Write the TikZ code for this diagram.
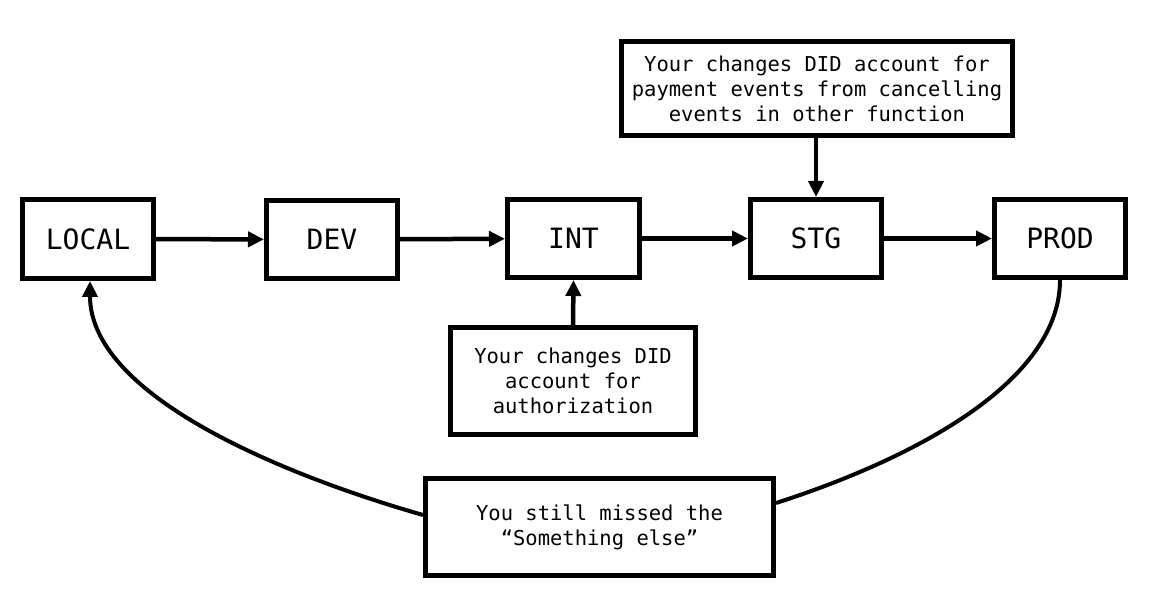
\documentclass[tikz,border=0pt]{standalone}
\usepackage{fontspec}
\setmonofont{DejaVu Sans Mono}
\usetikzlibrary{arrows.meta}
\begin{document}
\begin{tikzpicture}[x=1pt,y=-1pt,
  stage/.style={draw=black,line width=5pt,fill=white,inner sep=0pt,align=center,
    font=\ttfamily\fontsize{28}{32}\selectfont},
  note/.style={draw=black,line width=5pt,fill=white,inner sep=0pt,align=center,
    font=\ttfamily\fontsize{20.5}{25}\selectfont},
  conn/.style={line width=4.5pt,-{Triangle[length=16pt,width=15pt]}},
  loop/.style={line width=4pt}]
\useasboundingbox[fill=white] (0,0) rectangle (1165,612);
\node[stage,minimum width=131pt,minimum height=79pt] (local) at (88,239) {LOCAL};
\node[stage,minimum width=131pt,minimum height=78pt] (dev) at (332,239.5) {DEV};
\node[stage,minimum width=132pt,minimum height=78pt] (int) at (573.5,238.5) {INT};
\node[stage,minimum width=131pt,minimum height=78pt] (stg) at (816,238.5) {STG};
\node[stage,minimum width=131pt,minimum height=78pt] (prod) at (1060,238.5) {PROD};
\node[note,minimum width=391pt,minimum height=94pt] (top) at (817,88.5)
  {Your changes DID account for\\payment events from cancelling\\events in other function};
\node[note,minimum width=245pt,minimum height=107pt] (auth) at (573,381)
  {Your changes DID\\account for\\authorization};
\node[note,minimum width=348pt,minimum height=97pt] (miss) at (599.5,527)
  {You still missed the\\“Something else”};
\draw[conn] (local) -- (dev);
\draw[conn] (dev) -- (int);
\draw[conn] (int) -- (stg);
\draw[conn] (stg) -- (prod);
\draw[conn] (top.south -| stg.north) -- (stg.north);
\draw[conn] (auth.north) -- (int.south);
\coordinate (lend) at ([xshift=2pt]local.south);
\coordinate (lstart) at (miss.west |- 0,515);
\draw[loop,-{Triangle[length=16pt,width=15pt]}] (lstart) .. controls (273,472) and (90,393) .. (lend);
\coordinate (rstart) at (miss.east |- 0,503);
\draw[loop] (rstart) .. controls (916,458) and (1060,381) .. (prod.south);
\end{tikzpicture}
\end{document}
